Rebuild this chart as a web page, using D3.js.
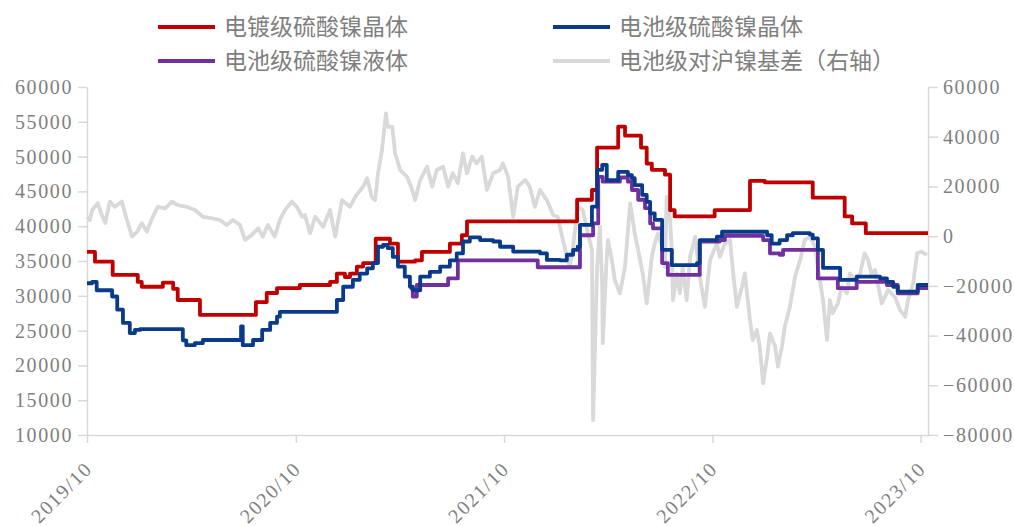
<!DOCTYPE html>
<html>
<head>
<meta charset="utf-8">
<script src="https://cdn.jsdelivr.net/npm/d3@7"></script>
<style>
  body { margin: 0; background: #fff; }
  .axis text { font-family: "Liberation Serif", "Times New Roman", serif; font-size: 20px; fill: #7f7f7f; letter-spacing: 1.6px; }
  .axis path, .axis line { stroke: #d9d9d9; stroke-width: 1.5; }
  .legend text { font-family: "Noto Sans CJK SC", sans-serif; font-size: 23px; fill: #7f7f7f; }
</style>
</head>
<body>
<script>
// ---- data ----
var seriesNames = ["电镀级硫酸镍晶体", "电池级硫酸镍晶体", "电池级硫酸镍液体", "电池级对沪镍基差（右轴）"];
var seriesColors = ["#c00000", "#0a3a8a", "#7030a0", "#d9d9d9"];

var platingCrystal = [
  ["2019-10-01",36300],["2019-10-15",34900],["2019-11-15",33000],["2019-12-29",32000],
  ["2020-01-05",31300],["2020-02-11",31900],["2020-02-29",31000],["2020-03-08",29400],
  ["2020-04-16",27250],["2020-07-23",29100],["2020-08-11",30400],["2020-08-29",31100],
  ["2020-10-08",31550],["2020-11-30",32000],["2020-12-12",33200],["2020-12-26",32700],
  ["2021-01-04",33200],["2021-01-16",34200],["2021-01-27",34700],["2021-02-18",38200],
  ["2021-03-15",37500],["2021-03-29",34900],["2021-04-28",35100],["2021-05-10",36300],
  ["2021-06-28",37500],["2021-07-19",38700],["2021-07-28",40700],["2022-02-06",43800],
  ["2022-03-04",45200],["2022-03-13",51300],["2022-04-19",54300],["2022-05-01",53000],
  ["2022-05-29",51300],["2022-06-08",49000],["2022-06-17",48100],["2022-07-10",47400],
  ["2022-07-19",42300],["2022-07-27",41400],["2022-10-05",42300],["2022-12-06",46500],
  ["2023-01-01",46300],["2023-03-26",44100],["2023-05-21",41400],["2023-06-03",40400],
  ["2023-06-27",39000],["2023-10-14",39000]
];

var batteryCrystal = [
  ["2019-10-01",31800],["2019-10-10",32000],["2019-10-18",30800],["2019-11-14",29900],
  ["2019-11-23",28000],["2019-12-03",26100],["2019-12-15",24650],["2019-12-24",25100],
  ["2020-01-02",25200],["2020-03-17",23600],["2020-03-23",22900],["2020-04-07",23200],
  ["2020-04-21",23650],["2020-06-27",25600],["2020-06-30",22900],["2020-07-18",23650],
  ["2020-08-03",25100],["2020-08-17",26100],["2020-08-29",27000],["2020-09-03",27700],
  ["2020-12-12",29400],["2020-12-23",31300],["2021-01-09",32300],["2021-01-21",33200],
  ["2021-02-03",33950],["2021-02-13",34700],["2021-02-22",37050],["2021-03-03",37300],
  ["2021-03-11",36850],["2021-03-20",35600],["2021-03-29",34200],["2021-04-10",32750],
  ["2021-04-19",31300],["2021-04-24",30800],["2021-05-07",32750],["2021-05-24",33450],
  ["2021-06-11",34200],["2021-06-28",35100],["2021-07-10",36100],["2021-07-21",37800],
  ["2021-08-02",38400],["2021-08-20",38000],["2021-09-12",37800],["2021-09-24",37050],
  ["2021-10-17",36350],["2021-12-03",36100],["2021-12-15",35150],["2022-01-07",35100],
  ["2022-01-19",35900],["2022-01-30",36600],["2022-02-07",37050],["2022-02-11",40200],
  ["2022-03-04",42800],["2022-03-13",48100],["2022-03-22",48800],["2022-03-30",46600],
  ["2022-04-19",47800],["2022-05-06",47350],["2022-05-13",46900],["2022-05-18",45900],
  ["2022-05-31",44500],["2022-06-08",43500],["2022-06-14",41850],["2022-06-22",40900],
  ["2022-07-05",36600],["2022-07-22",34400],["2022-09-04",34700],["2022-09-09",38000],
  ["2022-10-09",38500],["2022-10-18",39200],["2023-01-05",38700],["2023-01-13",37500],
  ["2023-01-27",38000],["2023-02-09",38700],["2023-02-19",39000],["2023-03-21",38800],
  ["2023-03-26",38250],["2023-04-04",36600],["2023-04-13",34000],["2023-05-13",32300],
  ["2023-06-11",32750],["2023-07-22",32500],["2023-08-03",32000],["2023-08-14",31300],
  ["2023-08-22",30600],["2023-09-26",31550],["2023-10-14",31550]
];

var batteryLiquid = [
  ["2021-04-19",31100],["2021-04-24",29900],["2021-05-01",31550],["2021-06-25",32500],
  ["2021-07-12",35100],["2021-11-29",34100],["2022-02-11",38700],["2022-03-06",40400],
  ["2022-03-15",47100],["2022-03-23",46400],["2022-04-22",47000],["2022-05-06",46400],
  ["2022-05-13",45200],["2022-05-24",43800],["2022-06-05",42600],["2022-06-14",40400],
  ["2022-06-19",39700],["2022-07-05",34700],["2022-07-15",33000],["2022-09-09",37800],
  ["2022-10-14",38000],["2022-10-23",38600],["2022-12-29",38000],["2023-01-10",36100],
  ["2023-01-27",35900],["2023-02-02",36600],["2023-04-04",32500],["2023-05-09",31100],
  ["2023-06-11",32000],["2023-08-03",31550],["2023-08-22",30350],["2023-09-26",31100],
  ["2023-10-14",31100]
];

var basisSpread = [
  ["2019-10-01",7800],["2019-10-06",6500],["2019-10-10",10500],["2019-10-20",13200],
  ["2019-10-27",8500],["2019-11-02",5300],["2019-11-10",13900],["2019-11-19",11800],
  ["2019-12-01",13900],["2019-12-10",6500],["2019-12-19",-200],["2019-12-28",1800],
  ["2020-01-05",5200],["2020-01-14",1800],["2020-01-23",7200],["2020-02-02",11800],
  ["2020-02-15",11200],["2020-02-27",13900],["2020-03-08",12500],["2020-03-24",11800],
  ["2020-04-07",10500],["2020-04-21",7800],["2020-05-07",7200],["2020-05-21",6500],
  ["2020-06-02",4500],["2020-06-13",6500],["2020-06-25",4500],["2020-07-04",-1500],
  ["2020-07-16",500],["2020-07-27",3200],["2020-08-04",-200],["2020-08-13",4500],
  ["2020-08-25",-200],["2020-09-03",6500],["2020-09-12",10500],["2020-09-24",13900],
  ["2020-10-03",11800],["2020-10-12",7800],["2020-10-17",8500],["2020-10-26",1100],
  ["2020-11-04",7800],["2020-11-18",3800],["2020-11-30",10500],["2020-12-09",-200],
  ["2020-12-21",14500],["2021-01-04",11800],["2021-01-13",15800],["2021-01-27",19900],
  ["2021-02-03",23300],["2021-02-11",15800],["2021-02-17",14500],["2021-02-22",25300],
  ["2021-03-01",34600],["2021-03-08",49400],["2021-03-11",44000],["2021-03-19",44000],
  ["2021-03-24",33300],["2021-04-02",26600],["2021-04-14",23900],["2021-04-23",18600],
  ["2021-04-28",14500],["2021-05-07",22600],["2021-05-19",27900],["2021-05-28",19900],
  ["2021-06-05",26600],["2021-06-16",27900],["2021-06-25",19900],["2021-07-03",25300],
  ["2021-07-12",21300],["2021-07-21",33300],["2021-07-28",25300],["2021-08-06",32000],
  ["2021-08-14",29300],["2021-08-23",32000],["2021-09-01",18600],["2021-09-12",25300],
  ["2021-09-24",26600],["2021-09-29",29300],["2021-10-08",23900],["2021-10-17",7800],
  ["2021-10-25",19900],["2021-11-07",22600],["2021-11-15",19900],["2021-11-24",11800],
  ["2021-12-03",18600],["2021-12-15",14500],["2021-12-26",8500],["2022-01-03",7800],
  ["2022-01-12",-1500],["2022-01-19",-8300],["2022-01-24",-12300],["2022-01-30",-4200],
  ["2022-02-07",11800],["2022-02-16",10500],["2022-02-25",1100],["2022-03-04",-5600],
  ["2022-03-06",-74000],["2022-03-13",-12300],["2022-03-18",3800],["2022-03-22",-20300],
  ["2022-03-23",-43100],["2022-03-29",-12300],["2022-04-01",-1500],["2022-04-08",-9600],
  ["2022-04-13",-17600],["2022-04-22",-23000],["2022-05-01",-12300],["2022-05-10",13200],
  ["2022-05-18",1100],["2022-05-24",-5600],["2022-06-01",-15000],["2022-06-08",-27000],
  ["2022-06-17",-8300],["2022-06-22",-2900],["2022-06-28",1100],["2022-07-05",-4200],
  ["2022-07-10",-12300],["2022-07-13",15800],["2022-07-19",6500],["2022-07-22",-5600],
  ["2022-07-24",-25700],["2022-07-31",-15000],["2022-08-05",-23000],["2022-08-10",-12300],
  ["2022-08-17",-25700],["2022-08-23",-8300],["2022-09-01",-200],["2022-09-09",-16300],
  ["2022-09-18",-28400],["2022-09-27",-9600],["2022-10-09",-2900],["2022-10-14",-8300],
  ["2022-10-23",-2900],["2022-11-01",-1500],["2022-11-06",-13600],["2022-11-13",-28400],
  ["2022-11-22",-20300],["2022-11-27",-15000],["2022-12-06",-33700],["2022-12-11",-41800],
  ["2022-12-18",-37700],["2022-12-23",-44400],["2022-12-29",-59200],["2023-01-05",-48500],
  ["2023-01-10",-39100],["2023-01-19",-44400],["2023-01-24",-52500],["2023-01-31",-44400],
  ["2023-02-05",-36400],["2023-02-14",-28400],["2023-02-23",-16300],["2023-03-04",-9600],
  ["2023-03-12",-1500],["2023-03-21",-200],["2023-03-30",-4200],["2023-04-04",-12300],
  ["2023-04-13",-25700],["2023-04-20",-41800],["2023-04-25",-25700],["2023-04-30",-31000],
  ["2023-05-09",-27000],["2023-05-16",-20300],["2023-05-25",-23000],["2023-05-30",-15000],
  ["2023-06-08",-17600],["2023-06-17",-15000],["2023-06-25",-6900],["2023-07-01",-9600],
  ["2023-07-08",-16300],["2023-07-13",-13600],["2023-07-25",-27000],["2023-08-05",-21700],
  ["2023-08-17",-24400],["2023-08-26",-29700],["2023-09-04",-32400],["2023-09-09",-25700],
  ["2023-09-18",-19000],["2023-09-25",-6900],["2023-10-03",-6200],["2023-10-12",-7600]
];

var leftTicks = [10000, 15000, 20000, 25000, 30000, 35000, 40000, 45000, 50000, 55000, 60000];
var rightTicks = [-80000, -60000, -40000, -20000, 0, 20000, 40000, 60000];
var xTickDates = ["2019-10-01", "2020-10-01", "2021-10-01", "2022-10-01", "2023-10-01"];
var xTickLabels = ["2019/10", "2020/10", "2021/10", "2022/10", "2023/10"];

// ---- chart ----
var W = 1014, H = 526;
var plotLeft = 87, plotRight = 928, plotTop = 87, plotBottom = 435;
var parse = d3.timeParse("%Y-%m-%d");

var svg = d3.select("body").append("svg")
  .attr("width", W)
  .attr("height", H);

var x = d3.scaleTime()
  .domain([parse("2019-10-01"), parse("2023-10-14")])
  .range([plotLeft, plotRight]);
var yL = d3.scaleLinear().domain([10000, 60000]).range([plotBottom, plotTop]);
var yR = d3.scaleLinear().domain([-80000, 60000]).range([plotBottom, plotTop]);

// axes
svg.append("g").attr("class", "axis")
  .attr("transform", "translate(" + plotLeft + ",0)")
  .call(d3.axisLeft(yL).tickValues(leftTicks).tickSize(9).tickSizeOuter(0).tickPadding(5).tickFormat(d3.format("d")));

svg.append("g").attr("class", "axis")
  .attr("transform", "translate(" + plotRight + ",0)")
  .call(d3.axisRight(yR).tickValues(rightTicks).tickSize(10).tickSizeOuter(0).tickPadding(5).tickFormat(d3.format("d")));

var xAxis = svg.append("g").attr("class", "axis")
  .attr("transform", "translate(0," + plotBottom + ")")
  .call(d3.axisBottom(x).tickValues(xTickDates.map(parse)).tickSize(8).tickSizeOuter(0)
    .tickFormat(function(d, i){ return xTickLabels[i]; }));
xAxis.selectAll("text")
  .attr("x", null).attr("y", null).attr("dy", null)
  .attr("transform", "translate(6,35) rotate(-45)")
  .style("text-anchor", "end");

// lines
var stepLine = d3.line()
  .curve(d3.curveStepAfter)
  .x(function(d){ return x(parse(d[0])); })
  .y(function(d){ return yL(d[1]); });
var basisLine = d3.line()
  .x(function(d){ return x(parse(d[0])); })
  .y(function(d){ return yR(d[1]); });

var g = svg.append("g");
g.append("path").datum(basisSpread)
  .attr("d", basisLine).attr("fill", "none")
  .attr("stroke", seriesColors[3]).attr("stroke-width", 3.8).attr("stroke-linejoin", "round");

[[platingCrystal, 0], [batteryLiquid, 2], [batteryCrystal, 1]].forEach(function(s){
  g.append("path").datum(s[0])
    .attr("d", stepLine).attr("fill", "none")
    .attr("stroke", seriesColors[s[1]]).attr("stroke-width", 3.8).attr("stroke-linejoin", "round");
});

// legend, two columns
var legendPos = [[158, 27], [553, 27], [158, 61], [553, 61]];
var legend = svg.append("g").attr("class", "legend");
seriesNames.forEach(function(name, i){
  var p = legendPos[i];
  legend.append("line")
    .attr("x1", p[0]).attr("x2", p[0] + 57)
    .attr("y1", p[1]).attr("y2", p[1])
    .attr("stroke", seriesColors[i]).attr("stroke-width", 4);
  legend.append("text")
    .attr("x", p[0] + 66).attr("y", p[1])
    .attr("dy", "0.35em")
    .text(name);
});
</script>
</body>
</html>
